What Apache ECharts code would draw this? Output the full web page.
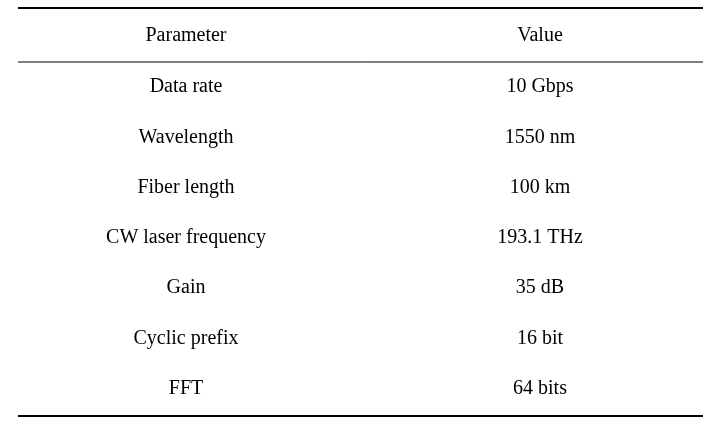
<!DOCTYPE html>
<html>
<head>
<meta charset="utf-8">
<script src="https://cdn.jsdelivr.net/npm/echarts@6/dist/echarts.min.js"></script>
<style>html,body{margin:0;background:#fff}#main{width:720px;height:423px}</style>
</head>
<body>
<div id="main"></div>
<script>
var headers = ['Parameter', 'Value'];
var parameters = ['Data rate', 'Wavelength', 'Fiber length', 'CW laser frequency', 'Gain', 'Cyclic prefix', 'FFT'];
var values = ['10 Gbps', '1550 nm', '100 km', '193.1 THz', '35 dB', '16 bit', '64 bits'];

var myChart = echarts.init(document.getElementById('main'));

// table geometry
var left = 18, right = 703;
var colX = [186, 540];
var headerY = 36, firstRowY = 87, rowStep = 50.3;
var font = '20px "Liberation Serif", "DejaVu Serif", serif';

var elements = [];
function line(y, w) {
    elements.push({ type: 'line', shape: { x1: left, y1: y, x2: right, y2: y }, style: { stroke: '#000', lineWidth: w } });
}
function text(x, y, s) {
    elements.push({ type: 'text', x: x, y: y, style: { text: s, font: font, fill: '#000', align: 'center', verticalAlign: 'middle' } });
}

line(8, 2);
line(62, 1);
line(416, 2);
headers.forEach(function (h, i) { text(colX[i], headerY, h); });
parameters.forEach(function (p, i) {
    var y = firstRowY + i * rowStep;
    text(colX[0], y, p);
    text(colX[1], y, values[i]);
});

myChart.setOption({ animation: false, graphic: { elements: elements } });
</script>
</body>
</html>
